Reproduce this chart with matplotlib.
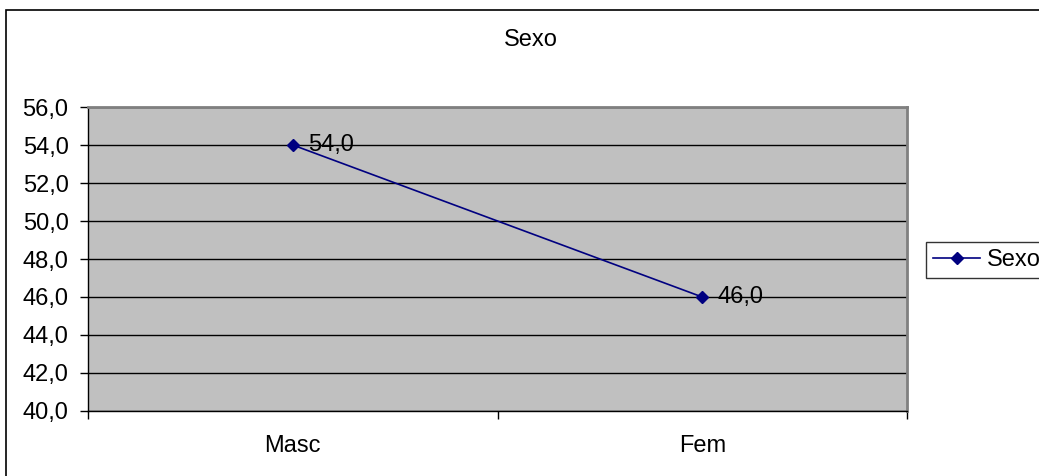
import numpy as np
import matplotlib
matplotlib.use("Agg")
from matplotlib import pyplot as plt
from matplotlib.patches import Rectangle

categorias = ["Masc", "Fem"]
valores = [54.0, 46.0]
serie = "Sexo"
titulo = "Sexo"

plt.rcParams['font.family'] = ['Liberation Sans', 'DejaVu Sans']
fs = 17

fig = plt.figure(figsize=(10.39, 4.76), dpi=100)
W, H = 1039, 476

# marco exterior del grafico
fig.patches.append(Rectangle((6 / W, -0.2), 1.2, 1.2 - 10 / H, transform=fig.transFigure,
                             fill=False, edgecolor='black', linewidth=1.2))

ax = fig.add_axes([88 / W, 1 - 411 / H, (907 - 88) / W, (411 - 107) / H])
ax.set_facecolor('#C0C0C0')

x = np.arange(len(categorias))
ax.plot(x, valores, color='#000080', linewidth=1.2, marker='D', markersize=6,
        markerfacecolor='#000080', markeredgecolor='#000080', label=serie, zorder=3)
for xi, v in zip(x, valores):
    ax.annotate(f"{v:.1f}".replace('.', ','), (xi, v), xytext=(11, 0),
                textcoords='offset points', va='center', ha='left', fontsize=fs)

ax.set_xlim(-0.5, len(categorias) - 0.5)
ax.set_ylim(40, 56)
yt = np.arange(40, 57, 2)
ax.set_yticks(yt)
ax.set_yticklabels([f"{t:.1f}".replace('.', ',') for t in yt], fontsize=fs)
ax.yaxis.grid(True, color='black', linewidth=1)
ax.set_axisbelow(True)

ax.set_xticks(x)
ax.set_xticklabels(categorias, fontsize=fs)
ax.tick_params(axis='x', which='major', length=0, pad=17)
ax.set_xticks(np.arange(-0.5, len(categorias), 1.0), minor=True)
ax.tick_params(axis='x', which='minor', length=6, direction='out', width=1)
ax.tick_params(axis='y', length=6, direction='out', width=1, pad=8)

for s in ['top', 'right']:
    ax.spines[s].set_color('#808080')
    ax.spines[s].set_linewidth(2)
for s in ['left', 'bottom']:
    ax.spines[s].set_color('black')
    ax.spines[s].set_linewidth(1)

fig.text(531 / W, 1 - 40 / H, titulo, ha='center', va='center', fontsize=fs)

leg = fig.legend(loc='center left', bbox_to_anchor=(926 / W, 1 - 260 / H), fontsize=fs,
                 frameon=True, fancybox=False, edgecolor='black', handlelength=2.0,
                 handletextpad=0.3, borderpad=0.3, borderaxespad=0)
leg.get_frame().set_linewidth(1)

fig.savefig("out.png", dpi=100)
